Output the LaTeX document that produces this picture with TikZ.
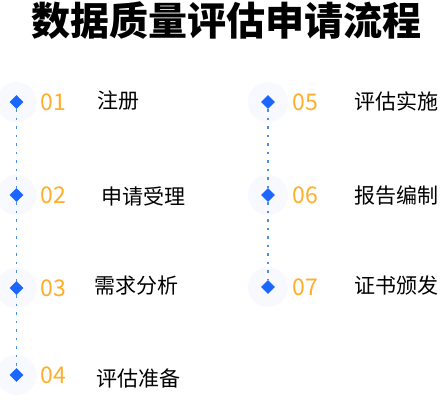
\documentclass[tikz,border=0pt]{standalone}
\usepackage{fontspec}
\setmainfont{Noto Sans CJK SC}
\newfontfamily\cjk{Noto Sans CJK SC}
\usetikzlibrary{shapes.geometric}
\definecolor{dblue}{HTML}{1A66FF}
\definecolor{lblue}{HTML}{4A8FE0}
\definecolor{numor}{HTML}{FFAD2A}
\definecolor{glow}{HTML}{F7F9FF}
\tikzset{
  dot/.style={diamond, fill=dblue, inner sep=0pt, minimum width=14pt, minimum height=14pt},
  halo/.style={circle, fill=glow, minimum size=40pt, inner sep=0pt},
  num/.style={font=\cjk\fontsize{23}{23}\selectfont, text=numor, inner sep=0pt},
  lab/.style={font=\cjk\fontsize{21}{21}\selectfont, text=black, anchor=west, inner sep=0pt},
  link/.style={lblue, line width=1.2pt, dash pattern=on 2.5pt off 6pt}
}
\begin{document}
\begin{tikzpicture}[x=1pt,y=-1pt]
\useasboundingbox[fill=white] (0,0) rectangle (440,403);
\node[font=\cjk\bfseries\fontsize{39}{39}\selectfont, inner sep=0pt] (title) at (226.5,21) {数据质量评估申请流程};
% halos
\foreach \p in {(16.5,102),(16.5,195),(16.5,288),(16.5,375),(268,102),(268,195),(268,287)}
  \node[halo] at \p {};
% diamonds
\node[dot] (d1) at (16.5,102) {};
\node[dot] (d2) at (16.5,195) {};
\node[dot] (d3) at (16.5,288) {};
\node[dot] (d4) at (16.5,375) {};
\node[dot] (d5) at (268,102) {};
\node[dot] (d6) at (268,195) {};
\node[dot] (d7) at (268,287) {};
\draw[link] (d1) -- (d2);
\draw[link] (d2) -- (d3);
\draw[link] (d3) -- (d4);
\draw[link] (d5) -- (d6);
\draw[link] (d6) -- (d7);
% numbers
\node[num] (n1) at (53.5,102) {01};
\node[num] (n2) at (53.5,195) {02};
\node[num] (n3) at (53.5,288) {03};
\node[num] (n4) at (53.5,375) {04};
\node[num] (n5) at (305,102) {05};
\node[num] (n6) at (305,195) {06};
\node[num] (n7) at (305,287) {07};
% labels
\node[lab] (l1) at (97,101) {注册};
\node[lab] (l2) at (101,196) {申请受理};
\node[lab] (l3) at (94,286) {需求分析};
\node[lab] (l4) at (96,378) {评估准备};
\node[lab] (l5) at (354,101) {评估实施};
\node[lab] (l6) at (354,196) {报告编制};
\node[lab] (l7) at (354,286) {证书颁发};
\end{tikzpicture}
\end{document}
